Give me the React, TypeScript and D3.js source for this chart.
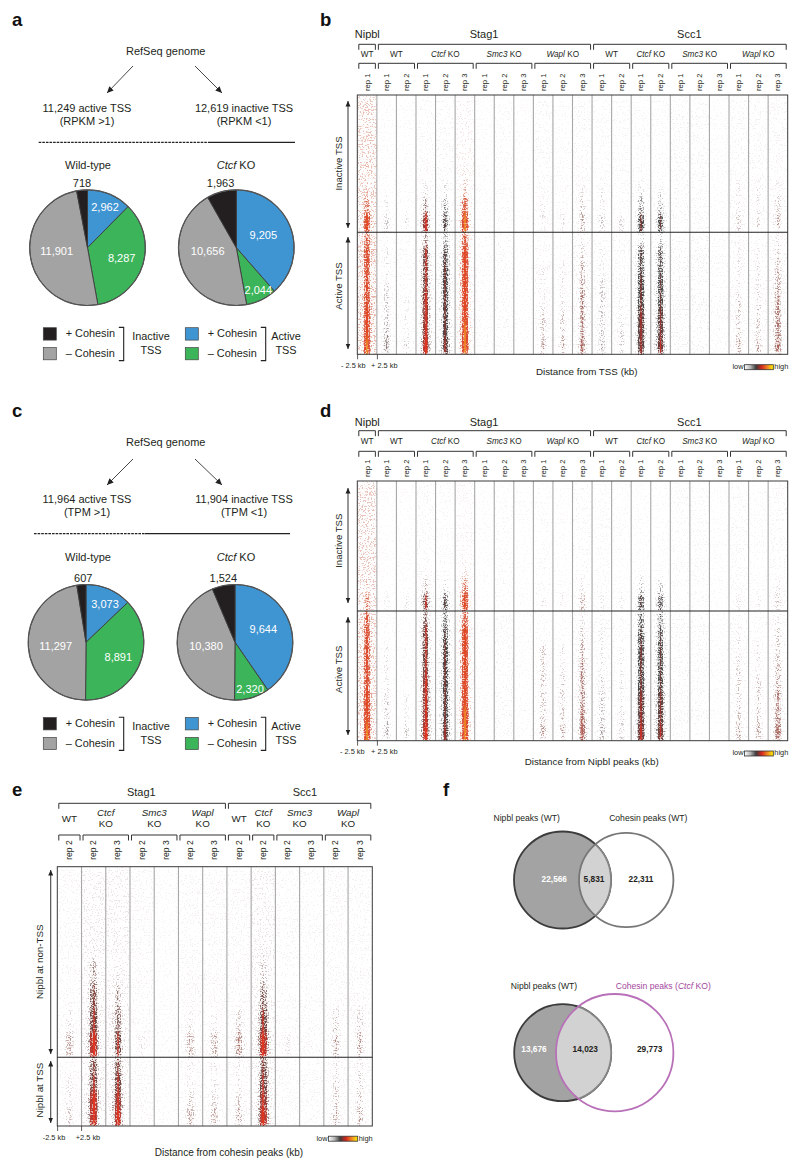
import React from 'react';
import * as d3 from 'd3';

const FONT = '"Liberation Sans", Arial, sans-serif';
const INK = '#231f20';

// ---- pie data
const SLICE_COLORS = ['#3f94d2', '#3cb55a', '#a3a3a3', '#231f20'];
const PIE_A_WT = [2962, 8287, 11901, 718];
const PIE_A_KO = [9205, 2044, 10656, 1963];
const PIE_C_WT = [3073, 8891, 11297, 607];
const PIE_C_KO = [9644, 2320, 10380, 1524];

// ---- heatmap lanes (panels b and d share the layout)
const BD_REPS = ['rep 1', 'rep 1', 'rep 2', 'rep 1', 'rep 2', 'rep 3', 'rep 1', 'rep 2', 'rep 3', 'rep 1', 'rep 2', 'rep 3', 'rep 1', 'rep 2', 'rep 1', 'rep 2', 'rep 1', 'rep 2', 'rep 3', 'rep 1', 'rep 2', 'rep 3'];
const BD_TONES = ['hot', 'pale', 'pale', 'mid', 'dark', 'hot', 'pale', 'pale', 'pale', 'pink', 'pink', 'pink', 'pale', 'pale', 'dark', 'dark', 'pale', 'pale', 'pale', 'pink', 'pink', 'pink'];
const BD_TOP = [['Nipbl', 0, 0], ['Stag1', 1, 11], ['Scc1', 12, 21]];
const BD_GROUPS = [['WT', 0, 0], ['WT', 1, 2], ['Ctcf', 3, 5], ['Smc3', 6, 8], ['Wapl', 9, 11], ['WT', 12, 13], ['Ctcf', 14, 15], ['Smc3', 16, 18], ['Wapl', 19, 21]];

// signal at the peak, 0-9, one row per lane, bands from top to bottom
const B_INACTIVE = [
  [1, 2, 2, 2, 3, 3, 5, 8], [0, 0, 0, 0, 1, 1, 2, 3], [0, 0, 0, 0, 0, 1, 1, 2], [0, 0, 1, 1, 1, 2, 4, 8], [0, 0, 0, 1, 1, 2, 4, 6], [0, 1, 1, 1, 2, 3, 6, 9],
  [0, 0, 0, 0, 0, 0, 0, 0], [0, 0, 0, 0, 0, 0, 0, 0], [0, 0, 0, 0, 0, 0, 0, 0], [0, 0, 0, 0, 0, 1, 2, 2], [0, 0, 0, 0, 0, 1, 1, 2], [0, 0, 0, 0, 1, 2, 3, 4],
  [0, 0, 0, 0, 1, 2, 2, 3], [0, 0, 0, 0, 0, 1, 1, 3], [0, 0, 0, 0, 1, 2, 4, 7], [0, 0, 0, 0, 1, 2, 4, 7], [0, 0, 0, 0, 0, 0, 0, 0], [0, 0, 0, 0, 0, 0, 0, 0],
  [0, 0, 0, 0, 0, 0, 0, 0], [0, 0, 0, 0, 1, 2, 2, 3], [0, 0, 0, 0, 1, 2, 2, 3], [0, 0, 0, 1, 1, 2, 3, 4],
];
const B_ACTIVE = [
  [6, 7, 7, 7, 7, 8, 8, 9], [1, 2, 2, 3, 3, 3, 4, 5], [0, 1, 1, 1, 2, 2, 2, 3], [4, 7, 7, 7, 8, 8, 8, 9], [4, 6, 7, 7, 7, 7, 7, 8], [6, 8, 8, 8, 8, 8, 9, 9],
  [0, 0, 0, 0, 0, 0, 0, 0], [0, 0, 0, 0, 0, 0, 0, 0], [0, 0, 0, 0, 0, 0, 0, 0], [0, 1, 2, 2, 2, 3, 3, 4], [0, 1, 2, 2, 2, 3, 3, 4], [2, 3, 4, 4, 5, 5, 5, 6],
  [1, 2, 2, 3, 3, 3, 3, 4], [0, 1, 1, 1, 2, 2, 3, 3], [3, 6, 6, 7, 7, 8, 8, 8], [3, 6, 6, 7, 7, 8, 8, 9], [0, 0, 0, 0, 0, 0, 0, 0], [0, 0, 0, 0, 0, 0, 0, 0],
  [0, 0, 0, 0, 0, 0, 0, 0], [1, 2, 2, 2, 3, 3, 3, 4], [1, 2, 2, 2, 3, 3, 3, 4], [2, 3, 4, 4, 5, 5, 5, 6],
];
const D_INACTIVE = [
  [1, 2, 2, 2, 2, 2, 3, 5], [0, 0, 0, 0, 0, 0, 1, 2], [0, 0, 0, 0, 0, 0, 0, 2], [0, 0, 0, 0, 0, 1, 3, 7], [0, 0, 0, 0, 0, 1, 2, 6], [0, 0, 0, 1, 1, 2, 5, 8],
  [0, 0, 0, 0, 0, 0, 0, 0], [0, 0, 0, 0, 0, 0, 0, 0], [0, 0, 0, 0, 0, 0, 0, 0], [0, 0, 0, 0, 0, 0, 1, 2], [0, 0, 0, 0, 0, 0, 1, 2], [0, 0, 0, 0, 0, 1, 2, 4],
  [0, 0, 0, 0, 0, 0, 1, 2], [0, 0, 0, 0, 0, 0, 1, 2], [0, 0, 0, 0, 0, 1, 3, 6], [0, 0, 0, 0, 0, 1, 3, 6], [0, 0, 0, 0, 0, 0, 0, 0], [0, 0, 0, 0, 0, 0, 0, 0],
  [0, 0, 0, 0, 0, 0, 0, 0], [0, 0, 0, 0, 0, 0, 1, 2], [0, 0, 0, 0, 0, 0, 1, 2], [0, 0, 0, 0, 0, 1, 2, 3],
];
const D_ACTIVE = [
  [6, 7, 7, 7, 7, 8, 8, 9], [1, 1, 2, 2, 2, 3, 3, 4], [0, 1, 1, 1, 1, 2, 2, 3], [5, 7, 7, 7, 8, 8, 8, 9], [5, 6, 7, 7, 7, 7, 7, 8], [6, 8, 8, 8, 8, 8, 9, 9],
  [0, 0, 0, 0, 0, 0, 0, 0], [0, 0, 0, 0, 0, 0, 0, 0], [0, 0, 0, 0, 0, 0, 0, 0], [1, 1, 3, 3, 3, 3, 3, 4], [1, 1, 2, 2, 3, 3, 3, 4], [2, 3, 4, 5, 5, 5, 6, 7],
  [1, 2, 2, 2, 3, 3, 3, 4], [1, 1, 2, 2, 2, 2, 3, 3], [5, 6, 7, 7, 7, 8, 8, 9], [5, 6, 7, 7, 7, 8, 8, 9], [0, 0, 0, 0, 0, 0, 0, 0], [0, 0, 0, 0, 0, 0, 0, 0],
  [0, 0, 0, 0, 0, 0, 0, 0], [1, 2, 2, 3, 3, 3, 3, 4], [1, 1, 2, 2, 3, 3, 3, 4], [2, 3, 3, 4, 4, 5, 5, 6],
];
const B_FLOOR = [2.0, 0.5, 0.5, 0.6, 0.6, 0.8, 0.5, 0.6, 0.4, 0.6, 0.5, 0.7, 0.6, 0.6, 0.5, 0.5, 0.7, 0.7, 0.5, 0.6, 0.6, 0.7];
const D_FLOOR = [1.9, 0.4, 0.4, 0.6, 0.5, 0.7, 0.4, 0.6, 0.4, 0.5, 0.4, 0.6, 0.6, 0.5, 0.4, 0.4, 0.6, 0.6, 0.4, 0.6, 0.5, 0.6];

// ---- panel e lanes
const E_REPS = ['rep 2', 'rep 2', 'rep 3', 'rep 2', 'rep 3', 'rep 2', 'rep 3', 'rep 2', 'rep 2', 'rep 2', 'rep 3', 'rep 2', 'rep 3'];
const E_TONES = ['pink', 'mid', 'mid', 'pink', 'pink', 'pink', 'pink', 'pink', 'mid', 'pink', 'pink', 'pink', 'pink'];
const E_TOP = [['Stag1', 0, 6], ['Scc1', 7, 12]];
const E_GROUPS = [['WT', 0, 0], ['Ctcf', 1, 2], ['Smc3', 3, 4], ['Wapl', 5, 6], ['WT', 7, 7], ['Ctcf', 8, 8], ['Smc3', 9, 10], ['Wapl', 11, 12]];
const E_NON_TSS = [
  [0, 0, 0, 0, 0, 1, 2, 4], [1, 1, 1, 2, 4, 6, 7, 9], [1, 1, 1, 1, 2, 4, 5, 7], [0, 0, 0, 0, 0, 0, 0, 2], [0, 0, 0, 0, 0, 0, 0, 1], [0, 0, 0, 0, 0, 1, 2, 4], [0, 0, 0, 0, 0, 1, 2, 4],
  [0, 0, 0, 0, 1, 1, 3, 5], [1, 1, 1, 2, 3, 5, 7, 9], [0, 0, 0, 0, 0, 0, 1, 2], [0, 0, 0, 0, 0, 0, 0, 1], [0, 0, 0, 0, 0, 1, 3, 4], [0, 0, 0, 0, 0, 1, 3, 4],
];
const E_TSS = [
  [1, 2, 2, 3], [6, 7, 9, 9], [6, 7, 8, 9], [0, 0, 0, 1], [0, 0, 0, 0], [2, 2, 3, 4], [2, 2, 3, 4],
  [2, 2, 3, 4], [6, 7, 8, 9], [0, 0, 0, 1], [0, 0, 0, 0], [2, 3, 3, 4], [2, 3, 3, 4],
];
const E_FLOOR = [0.7, 1.0, 1.0, 0.7, 0.5, 0.7, 0.7, 0.7, 1.0, 0.6, 0.6, 0.7, 0.7];

// share of the peak signal across one lane, left to right
const LANE_PROFILE = [0.09, 0.14, 0.24, 0.42, 0.78, 1, 0.78, 0.42, 0.24, 0.14, 0.09];
const LEGEND_COLORS = ['#ffffff', '#b8b8b8', '#3c3c3c', '#d8261c', '#f08a22', '#fff200'];

const TONES: Record<string, any> = {
  dark: d3.scaleLinear<string>().domain([0, 0.35, 0.6, 0.82, 1]).range(['#c4c4c4', '#8a8a8a', '#4a4a4a', '#7a3430', '#c4322a']),
  mid: d3.scaleLinear<string>().domain([0, 0.35, 0.6, 0.8, 1]).range(['#ccbebc', '#9a7e7a', '#6a4440', '#c0342c', '#e0341f']),
  hot: d3.scaleLinear<string>().domain([0, 0.3, 0.6, 0.88, 1]).range(['#e0b8ae', '#d88c78', '#d85c40', '#e04222', '#ee8024']),
  pink: d3.scaleLinear<string>().domain([0, 0.3, 0.6, 1]).range(['#d0c4c2', '#b49a96', '#a86a64', '#c84a40']),
  pale: d3.scaleLinear<string>().domain([0, 0.3, 0.6, 1]).range(['#cccaca', '#a89e9c', '#867472', '#a04c44']),
};

const T = ({ x, y, size = 10, anchor = 'middle', fill = INK, weight, children, rotate }: any) => (
  <text
    x={rotate ? 0 : x}
    y={rotate ? 0 : y}
    transform={rotate ? `translate(${x},${y}) rotate(${rotate})` : undefined}
    fontSize={size}
    textAnchor={anchor}
    fill={fill}
    fontWeight={weight}
    fontFamily={FONT}
  >
    {children}
  </text>
);

const GeneName = ({ name, suffix = ' KO' }: any) =>
  name === 'WT' ? <>WT</> : <><tspan fontStyle="italic">{name}</tspan>{suffix}</>;

// dithers the bands into specks: the more signal, the more of the noise gets through.
// strong bands also get a washed layer below so the core of a peak stays solid
const Stipple = ({ id, seed, x, y, width, height }: any) => {
  const keepR = '1 0 0 0 0 1 0 0 0 0 1 0 0 0 0 0 0 0 0 1';
  return (
    <filter id={id} filterUnits="userSpaceOnUse" x={x} y={y} width={width} height={height} colorInterpolationFilters="sRGB">
      <feGaussianBlur in="SourceGraphic" stdDeviation="0.5 3.5" result="soft" />
      <feTurbulence type="fractalNoise" baseFrequency="0.63 0.77" numOctaves={3} seed={seed} result="n1" />
      <feColorMatrix in="n1" type="matrix" values={keepR} result="n1o" />
      <feTurbulence type="fractalNoise" baseFrequency="0.012 0.63" numOctaves={2} seed={seed + 7} result="n2" />
      <feColorMatrix in="n2" type="matrix" values={keepR} result="n2o" />
      <feComposite in="n1o" in2="n2o" operator="arithmetic" k1={0} k2={0.8} k3={0.2} k4={0} result="mix" />
      <feColorMatrix in="mix" type="matrix" values="0 0 0 0 0 0 0 0 0 0 0 0 0 0 0 2.8 0 0 0 -1.05" result="noise" />
      <feColorMatrix in="soft" type="matrix" values="0 0 0 0 0 0 0 0 0 0 0 0 0 0 0 0 0 0 1 0" result="softA" />
      <feComposite in="softA" in2="noise" operator="arithmetic" k1={0} k2={1} k3={-1} k4={0} result="diff" />
      <feComponentTransfer in="diff" result="mask"><feFuncA type="linear" slope={2.4} /></feComponentTransfer>
      <feComponentTransfer in="soft" result="opaque"><feFuncA type="linear" slope={60} /></feComponentTransfer>
      <feComposite in="opaque" in2="mask" operator="in" result="specks" />
      <feComposite in="softA" in2="noise" operator="arithmetic" k1={0} k2={1.25} k3={-0.5} k4={0} result="diff2" />
      <feComponentTransfer in="diff2" result="washMask"><feFuncA type="gamma" amplitude={0.95} exponent={1.5} offset={0} /></feComponentTransfer>
      <feComposite in="opaque" in2="washMask" operator="in" result="wash" />
      <feMerge result="both">
        <feMergeNode in="wash" />
        <feMergeNode in="specks" />
      </feMerge>
      <feGaussianBlur in="both" stdDeviation="0.45" />
    </filter>
  );
};

const Bracket = ({ x0, x1, y, tick, width = 1 }: any) => (
  <path d={`M${x0},${y + tick}V${y}H${x1}V${y + tick}`} fill="none" stroke="#333" strokeWidth={width} />
);

const VArrow = ({ x, y0, y1, id }: any) => (
  <line x1={x} x2={x} y1={y0} y2={y1} stroke="#444" strokeWidth={1.1} markerStart={`url(#${id}-s)`} markerEnd={`url(#${id}-e)`} />
);

const Heatmap = ({ id, reps, tones, floors, top, groups, sections, x0, x1, y0, hdr, labels, ticks, title, legend, twoLine }: any) => {
  const x = d3.scaleBand<number>().domain(d3.range(reps.length)).range([x0, x1]);
  const bin = d3.scaleBand<number>().domain(d3.range(LANE_PROFILE.length)).range([0, x.bandwidth()]);
  // how dense the specks get for a given signal
  const density = d3.scalePow().exponent(1.25).domain([0, 1]).range([0, 1.05]);
  const yEnd = sections[sections.length - 1].y1;
  return (
    <g>
      {top.map(([name, a, b]: any) => (
        <g key={name}>
          <T x={hdr.nameX[name]} y={hdr.name} size={hdr.nameSize}>{name}</T>
          <Bracket x0={x(a)! + 1.5} x1={x(b)! + x.bandwidth() - 1.5} y={hdr.upper} tick={5.5} />
        </g>
      ))}
      {groups.map(([name, a, b]: any, i: number) => {
        const mid = (x(a)! + x(b)! + x.bandwidth()) / 2;
        return (
          <g key={i}>
            {twoLine && name !== 'WT' ? (
              <>
                <T x={mid} y={hdr.sub - 6.6} size={hdr.subSize}><tspan fontStyle="italic">{name}</tspan></T>
                <T x={mid} y={hdr.sub + 5} size={hdr.subSize}>KO</T>
              </>
            ) : (
              <T x={mid} y={hdr.sub} size={hdr.subSize}><GeneName name={name} /></T>
            )}
            <Bracket x0={x(a)! + 1.5} x1={x(b)! + x.bandwidth() - 1.5} y={hdr.lower} tick={5.5} />
          </g>
        );
      })}
      {reps.map((r: string, i: number) => (
        <T key={i} x={x(i)! + x.bandwidth() / 2 + 2.5} y={hdr.rep} size={hdr.repSize} rotate={-90}>{r}</T>
      ))}

      {sections.map((s: any, si: number) => {
        const y = d3.scaleBand<number>().domain(d3.range(s.rows[0].length)).range([s.y0, s.y1]);
        return (
          <g key={si}>
            <Stipple id={`${id}-f${si}`} seed={si * 11 + x0 % 7 + 2} x={x0} y={s.y0} width={x1 - x0} height={s.y1 - s.y0} />
            <g filter={`url(#${id}-f${si})`}>
              <rect x={x0} y={s.y0} width={x1 - x0} height={s.y1 - s.y0} fill="#fff" fillOpacity={0.001} />
              {s.rows.map((row: number[], l: number) =>
                row.map((signal, r) =>
                  LANE_PROFILE.map((w, b) => {
                    const v = (signal * w) / 9;
                    const floor = (floors[l] * s.floor) / 9;
                    const a = Math.max(floor, density(v) as number);
                    if (a <= 0) return null;
                    return (
                      <rect
                        key={`${l}-${r}-${b}`}
                        x={x(l)! + bin(b)!}
                        y={y(r)!}
                        width={bin.bandwidth()}
                        height={y.bandwidth()}
                        fill={TONES[tones[l]](Math.max(v, floor))}
                        fillOpacity={a}
                        shapeRendering="crispEdges"
                      />
                    );
                  })
                )
              )}
            </g>
          </g>
        );
      })}

      {d3.range(1, reps.length).map(i => (
        <line key={i} x1={x(i)} x2={x(i)} y1={y0} y2={yEnd} stroke="#a8a8a8" strokeWidth={1.1} />
      ))}
      <rect x={x0} y={y0} width={x1 - x0} height={yEnd - y0} fill="none" stroke="#3a3a3a" strokeWidth={1} />
      {sections.slice(1).map((s: any, i: number) => (
        <line key={i} x1={x0} x2={x1} y1={s.y0} y2={s.y0} stroke="#222" strokeWidth={1.1} />
      ))}

      <marker id={`${id}-e`} markerUnits="userSpaceOnUse" markerWidth={6} markerHeight={8} refX={5.5} refY={2.5} orient="auto">
        <path d="M0,0L5.5,2.5L0,5Z" fill="#222" />
      </marker>
      <marker id={`${id}-s`} markerUnits="userSpaceOnUse" markerWidth={6} markerHeight={8} refX={0} refY={2.5} orient="auto">
        <path d="M5.5,0L0,2.5L5.5,5Z" fill="#222" />
      </marker>
      {labels.map((a: any) => (
        <g key={a.text}>
          <VArrow id={id} x={a.x} y0={a.y0} y1={a.y1} />
          <T x={a.tx} y={a.ty} size={a.size} rotate={-90}>{a.text}</T>
        </g>
      ))}

      {ticks.marks.map((m: any) => (
        <g key={m.text}>
          <line x1={m.x} x2={m.x} y1={yEnd} y2={yEnd + 5} stroke="#333" strokeWidth={0.8} />
          <T x={m.tx} y={ticks.y} size={7.4}>{m.text}</T>
        </g>
      ))}
      <T x={title.x} y={title.y} size={title.size}>{title.text}</T>

      <T x={legend.x0 - 1} y={legend.y + 4.4} size={7.4} anchor="end">low</T>
      <rect x={legend.x0} y={legend.y} width={legend.x1 - legend.x0} height={5} fill={`url(#${id}-legend)`} stroke="#333" strokeWidth={0.8} />
      <linearGradient id={`${id}-legend`}>
        {LEGEND_COLORS.map((c, i) => <stop key={i} offset={i / (LEGEND_COLORS.length - 1)} stopColor={c} />)}
      </linearGradient>
      <T x={legend.x1 + 1} y={legend.y + 4.4} size={7.4} anchor="start">high</T>
    </g>
  );
};

const Pie = ({ values, cx, cy, r, labels }: any) => {
  const pie = d3.pie<number>().sort(null).value(d => d);
  const arc = d3.arc<any>().innerRadius(0).outerRadius(r);
  return (
    <g>
      <g transform={`translate(${cx},${cy})`}>
        {pie(values).map((s, i) => (
          <path key={i} d={arc(s)!} fill={SLICE_COLORS[i]} stroke="#3c3c3c" strokeWidth={0.9} />
        ))}
        <circle r={r} fill="none" stroke="#555" strokeWidth={1.2} />
      </g>
      {labels.map((l: any, i: number) => (
        <T key={i} x={l[0]} y={l[1] + 3.8} size={11} fill={l[2] ?? '#fff'}>{d3.format(',')(values[i])}</T>
      ))}
    </g>
  );
};

const Legend = ({ dy }: any) => {
  const xs = [43.3, 185.3];
  return (
    <g transform={`translate(0,${dy})`}>
      {xs.map((x, col) => (
        <g key={col}>
          <rect x={x} y={327.7} width={13} height={12.4} fill={SLICE_COLORS[col === 0 ? 3 : 0]} stroke="#444" strokeWidth={0.7} />
          <rect x={x} y={347.6} width={13} height={12.2} fill={SLICE_COLORS[col === 0 ? 2 : 1]} stroke="#444" strokeWidth={0.7} />
          <T x={x + 22.4} y={337.4} size={10.9} anchor="start">+ Cohesin</T>
          <T x={x + 22.4} y={356.8} size={10.9} anchor="start">– Cohesin</T>
          <path d={`M${x + 75.5},327.4H${x + 80.4}V360.6H${x + 75.5}`} fill="none" stroke="#222" strokeWidth={1.1} />
          <T x={col === 0 ? 151 : 286} y={340} size={10.9}>{col === 0 ? 'Inactive' : 'Active'}</T>
          <T x={col === 0 ? 151 : 286} y={354} size={10.9}>TSS</T>
        </g>
      ))}
    </g>
  );
};

const Tree = ({ genomeY, left, right, unitL, unitR, arrowY0, arrowY1, textY, lineY, lineX, id }: any) => (
  <g>
    <marker id={id} markerUnits="userSpaceOnUse" markerWidth={8} markerHeight={8} refX={6.5} refY={3} orient="auto">
      <path d="M0,0L6.5,3L0,6Z" fill="#222" />
    </marker>
    <T x={165.7} y={genomeY} size={11}>RefSeq genome</T>
    <line x1={133} y1={arrowY0} x2={107} y2={arrowY1} stroke="#333" strokeWidth={0.9} markerEnd={`url(#${id})`} />
    <line x1={195} y1={arrowY0} x2={222} y2={arrowY1} stroke="#333" strokeWidth={0.9} markerEnd={`url(#${id})`} />
    <T x={87} y={textY} size={11}>{left}</T>
    <T x={87} y={textY + 13.2} size={11}>{unitL}</T>
    <T x={244} y={textY} size={11}>{right}</T>
    <T x={244} y={textY + 13.2} size={11}>{unitR}</T>
    <line x1={lineX[0]} x2={lineX[1]} y1={lineY} y2={lineY} stroke="#222" strokeWidth={1.3} strokeDasharray="2.6 1" />
    <line x1={lineX[1]} x2={lineX[2]} y1={lineY} y2={lineY} stroke="#222" strokeWidth={1.3} />
  </g>
);

const Venn = ({ id, cy, left, right, rightStroke, rightWidth = 1.8 }: any) => (
  <g>
    <clipPath id={`${id}-c`}><circle cx={right.x} cy={cy} r={right.r} /></clipPath>
    <circle cx={left.x} cy={cy} r={left.r} fill="#a3a3a3" stroke="#3c3c3c" strokeWidth={1.8} />
    <g clipPath={`url(#${id}-c)`}>
      <circle cx={left.x} cy={cy} r={left.r} fill="#d2d2d2" stroke="#858585" strokeWidth={1.8} />
    </g>
    <circle cx={right.x} cy={cy} r={right.r} fill="none" stroke={rightStroke} strokeWidth={rightWidth} />
  </g>
);

export default function App() {
  const bdHdr = (top: number, d: any) => ({
    nameX: { Nipbl: 367.3, Stag1: 484, Scc1: 689.3 },
    name: top + d[0], upper: top + d[1], sub: top + d[2], lower: top + d[3], rep: top - 12.7,
    nameSize: 11, subSize: 8.2, repSize: 7.6,
  });
  return (
    <svg width={800} height={1169} style={{ position: 'absolute', left: 0, top: 0, background: '#fff' }}>
      {[['a', 12, 26], ['b', 320, 26], ['c', 12, 416.7], ['d', 320, 416.7], ['e', 12, 796], ['f', 443, 796]].map(([s, x, y]: any) => (
        <T key={s} x={x} y={y} size={18.5} anchor="start" weight="bold" fill="#111">{s}</T>
      ))}

      {/* panel a */}
      <Tree id="arrA" genomeY={55} left="11,249 active TSS" right="12,619 inactive TSS" unitL="(RPKM >1)" unitR="(RPKM <1)"
        arrowY0={66} arrowY1={93} textY={112} lineY={142.4} lineX={[38.7, 208, 295]} />
      <T x={88} y={169} size={11}>Wild-type</T>
      <T x={236} y={169} size={11}><GeneName name="Ctcf" /></T>
      <T x={82} y={186.7} size={11}>718</T>
      <T x={220.6} y={186.7} size={11}>1,963</T>
      <Pie values={PIE_A_WT} cx={87.5} cy={247.7} r={57.8} labels={[[105, 207.5], [121.7, 258], [56.7, 251.5]]} />
      <Pie values={PIE_A_KO} cx={236.3} cy={247.7} r={57.8} labels={[[263.3, 235], [258.3, 290], [207.7, 251]]} />
      <Legend dy={0} />

      {/* panel c */}
      <Tree id="arrC" genomeY={446} left="11,964 active TSS" right="11,904 inactive TSS" unitL="(TPM >1)" unitR="(TPM <1)"
        arrowY0={459} arrowY1={485} textY={502.7} lineY={533.6} lineX={[34, 145, 290]} />
      <T x={88} y={560.7} size={11}>Wild-type</T>
      <T x={236} y={560.7} size={11}><GeneName name="Ctcf" /></T>
      <T x={83.3} y={582} size={11}>607</T>
      <T x={223.3} y={582} size={11}>1,524</T>
      <Pie values={PIE_C_WT} cx={86} cy={642.3} r={57.8} labels={[[105, 604], [118.3, 657.3], [55.7, 646]]} />
      <Pie values={PIE_C_KO} cx={235} cy={642.3} r={57.8} labels={[[263.3, 629], [250, 689], [206, 646]]} />
      <Legend dy={389.8} />

      {/* panel b */}
      <Heatmap id="hb" reps={BD_REPS} tones={BD_TONES} floors={B_FLOOR} top={BD_TOP} groups={BD_GROUPS}
        x0={357.3} x1={787.7} y0={95} hdr={bdHdr(95, [-57, -50.7, -37.7, -31.7])}
        sections={[{ rows: B_INACTIVE, y0: 95, y1: 232.2, floor: 1 }, { rows: B_ACTIVE, y0: 232.2, y1: 354.3, floor: 1.15 }]}
        labels={[
          { text: 'Inactive TSS', x: 348, y0: 101, y1: 228, tx: 341.5, ty: 163.5, size: 9.6 },
          { text: 'Active TSS', x: 348, y0: 237, y1: 349, tx: 341.5, ty: 286, size: 9.6 },
        ]}
        ticks={{ y: 368, marks: [{ text: '- 2.5 kb', x: 357.6, tx: 353.3 }, { text: '+ 2.5 kb', x: 377.4, tx: 384.3 }] }}
        title={{ text: 'Distance from TSS (kb)', x: 586.7, y: 375, size: 9.8 }}
        legend={{ x0: 744.5, x1: 773.3, y: 364.7 }} />

      {/* panel d */}
      <Heatmap id="hd" reps={BD_REPS} tones={BD_TONES} floors={D_FLOOR} top={BD_TOP} groups={BD_GROUPS}
        x0={357.3} x1={787.7} y0={481} hdr={bdHdr(481, [-55.3, -50.3, -37, -29.7])}
        sections={[{ rows: D_INACTIVE, y0: 481, y1: 611, floor: 1 }, { rows: D_ACTIVE, y0: 611, y1: 740.7, floor: 1.15 }]}
        labels={[
          { text: 'Inactive TSS', x: 348, y0: 488, y1: 603, tx: 341.5, ty: 540.7, size: 9.6 },
          { text: 'Active TSS', x: 348, y0: 617, y1: 735, tx: 341.5, ty: 669.3, size: 9.6 },
        ]}
        ticks={{ y: 754.3, marks: [{ text: '- 2.5 kb', x: 357.6, tx: 352.3 }, { text: '+ 2.5 kb', x: 377.4, tx: 384.3 }] }}
        title={{ text: 'Distance from Nipbl peaks (kb)', x: 591.7, y: 764.7, size: 9.8 }}
        legend={{ x0: 744.5, x1: 773.3, y: 751 }} />

      {/* panel e */}
      <Heatmap id="he" reps={E_REPS} tones={E_TONES} floors={E_FLOOR} top={E_TOP} groups={E_GROUPS} twoLine
        x0={57.3} x1={372.3} y0={866.7}
        hdr={{ nameX: { Stag1: 141.3, Scc1: 305 }, name: 795.7, upper: 803.3, sub: 822.3, lower: 835, rep: 850, nameSize: 11, subSize: 9.8, repSize: 8.6 }}
        sections={[{ rows: E_NON_TSS, y0: 866.7, y1: 1057.3, floor: 1 }, { rows: E_TSS, y0: 1057.3, y1: 1126, floor: 1 }]}
        labels={[
          { text: 'Nipbl at non-TSS', x: 50.7, y0: 870, y1: 1054, tx: 43, ty: 961.7, size: 9.8 },
          { text: 'Nipbl at TSS', x: 50.7, y0: 1061, y1: 1123, tx: 43, ty: 1090, size: 9.8 },
        ]}
        ticks={{ y: 1140, marks: [{ text: '-2.5 kb', x: 57.6, tx: 54 }, { text: '+2.5 kb', x: 81.6, tx: 88 }] }}
        title={{ text: 'Distance from cohesin peaks (kb)', x: 229, y: 1155.7, size: 10 }}
        legend={{ x0: 328.5, x1: 357.7, y: 1136.2 }} />

      {/* panel f */}
      <T x={526.7} y={821.3} size={8.6}>Nipbl peaks (WT)</T>
      <T x={648.3} y={821.3} size={8.6}>Cohesin peaks (WT)</T>
      <Venn id="v1" cy={880} left={{ x: 562.5, r: 48.5 }} right={{ x: 626.2, r: 47.2 }} rightStroke="#777" />
      <T x={554.3} y={882} size={8.3} weight="bold" fill="#fff">22,566</T>
      <T x={594} y={882} size={8.3} weight="bold">5,831</T>
      <T x={641} y={882} size={8.3} weight="bold">22,311</T>

      <T x={544} y={989} size={8.6}>Nipbl peaks (WT)</T>
      <T x={663.3} y={989} size={8.6} fill="#a3489e">Cohesin peaks (<tspan fontStyle="italic">Ctcf</tspan> KO)</T>
      <Venn id="v2" cy={1052.7} left={{ x: 562.7, r: 48.5 }} right={{ x: 614.7, r: 58.7 }} rightStroke="#b870b8" />
      <T x={534} y={1052} size={8.3} weight="bold" fill="#fff">13,676</T>
      <T x={585.3} y={1052} size={8.3} weight="bold">14,023</T>
      <T x={649.7} y={1052} size={8.3} weight="bold">29,773</T>
    </svg>
  );
}
